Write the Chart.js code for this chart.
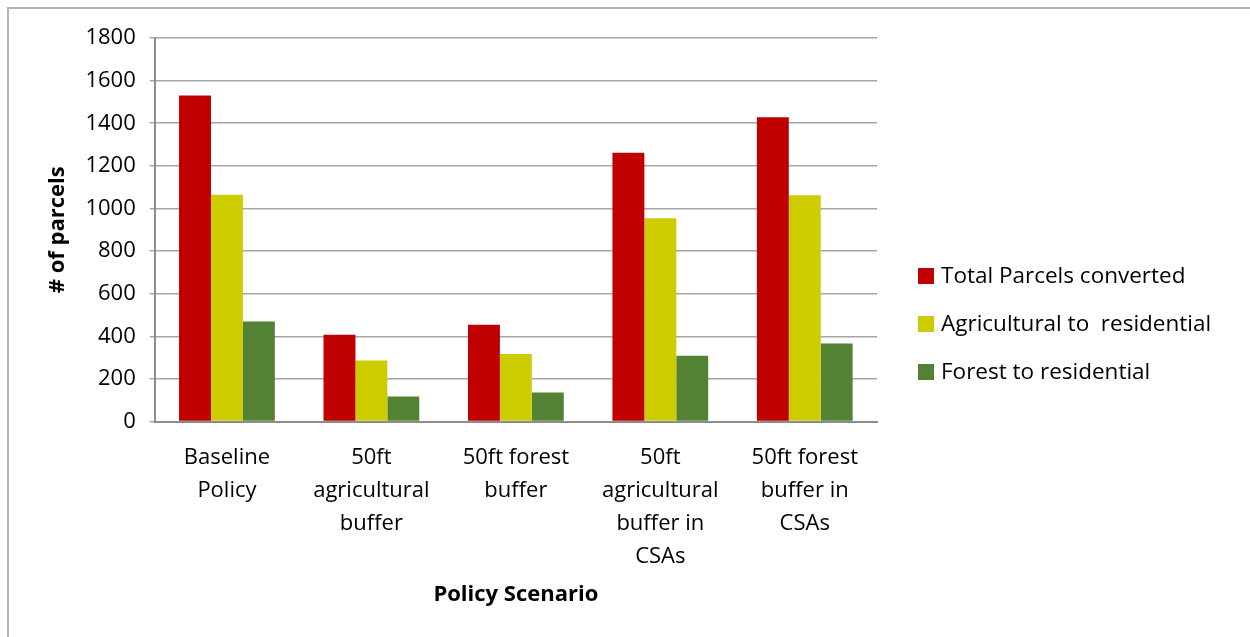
<!DOCTYPE html>
<html>
<head>
<meta charset="utf-8">
<script src="https://cdn.jsdelivr.net/npm/chart.js@4/dist/chart.umd.min.js"></script>
<style>
    html, body { margin: 0; padding: 0; background: #fff; overflow: hidden; }
    #frame {
        position: absolute; left: 7px; top: 7px; width: 1300px; height: 700px;
        border-left: 2px solid #b3b3b3; border-top: 2px solid #b3b3b3;
    }
    #wrap { position: absolute; left: 0; top: 0; width: 1250px; height: 637px; }
    #legend {
        position: absolute; left: 918px; top: 258px; margin: 0; padding: 0;
        list-style: none; font-family: "Open Sans", sans-serif; font-size: 22.5px; color: #000;
    }
    #legend li { height: 48px; line-height: 34px; white-space: pre; }
    #legend span.box {
        display: inline-block; width: 16px; height: 16px; margin-right: 7px; vertical-align: -1px;
    }
</style>
</head>
<body>
<div id="frame"></div>
<div id="wrap"><canvas id="parcelsChart"></canvas></div>
<ul id="legend"></ul>
<script>
const scenarios = [
    ['Baseline', 'Policy'],
    ['50ft', 'agricultural', 'buffer'],
    ['50ft forest', 'buffer'],
    ['50ft', 'agricultural', 'buffer in', 'CSAs'],
    ['50ft forest', 'buffer in', 'CSAs']
];
const totalConverted = [1530, 408, 455, 1262, 1428];
const agToResidential = [1065, 287, 317, 954, 1062];
const forestToResidential = [470, 118, 136, 309, 366];
const yTicks = [0, 200, 400, 600, 800, 1000, 1200, 1400, 1600, 1800];

const FONT = '"Open Sans", sans-serif';

const ctx = document.getElementById('parcelsChart').getContext('2d');
const chart = new Chart(ctx, {
    type: 'bar',
    data: {
        labels: scenarios,
        datasets: [
            { label: 'Total Parcels converted', data: totalConverted, backgroundColor: '#C00000' },
            { label: 'Agricultural to  residential', data: agToResidential, backgroundColor: '#CCCC00' },
            { label: 'Forest to residential', data: forestToResidential, backgroundColor: '#538234' }
        ]
    },
    options: {
        responsive: true,
        maintainAspectRatio: false,
        animation: false,
        datasets: {
            bar: { categoryPercentage: 0.663, barPercentage: 1.0 }
        },
        layout: {
            padding: { left: 34, top: 38, right: 373, bottom: 25 }
        },
        plugins: {
            legend: { display: false },
            tooltip: { enabled: false }
        },
        scales: {
            x: {
                grid: { display: false },
                border: { color: '#8c8c8c', width: 2 },
                ticks: {
                    color: '#000',
                    font: { family: FONT, size: 22, lineHeight: 1.5 },
                    maxRotation: 0,
                    autoSkip: false,
                    padding: 12
                },
                title: {
                    display: true,
                    text: 'Policy Scenario',
                    color: '#000',
                    font: { family: FONT, size: 22, weight: 'bold' },
                    padding: { top: -4 }
                }
            },
            y: {
                min: 0,
                max: 1800,
                afterBuildTicks: (axis) => { axis.ticks = yTicks.map(v => ({ value: v })); },
                grid: { color: '#a6a6a6', lineWidth: 1.5, tickLength: 5 },
                border: { color: '#8c8c8c', width: 2 },
                ticks: {
                    color: '#000',
                    font: { family: FONT, size: 22 },
                    padding: 14,
                    callback: (v) => String(v)
                },
                title: {
                    display: true,
                    text: '# of parcels',
                    color: '#000',
                    font: { family: FONT, size: 22, weight: 'bold' },
                    padding: { top: 11, bottom: 0 }
                }
            }
        }
    }
});

// legend built from the chart's own datasets
const legendEl = document.getElementById('legend');
chart.data.datasets.forEach(ds => {
    const li = document.createElement('li');
    const box = document.createElement('span');
    box.className = 'box';
    box.style.background = ds.backgroundColor;
    li.appendChild(box);
    li.appendChild(document.createTextNode(ds.label));
    legendEl.appendChild(li);
});
</script>
</body>
</html>
